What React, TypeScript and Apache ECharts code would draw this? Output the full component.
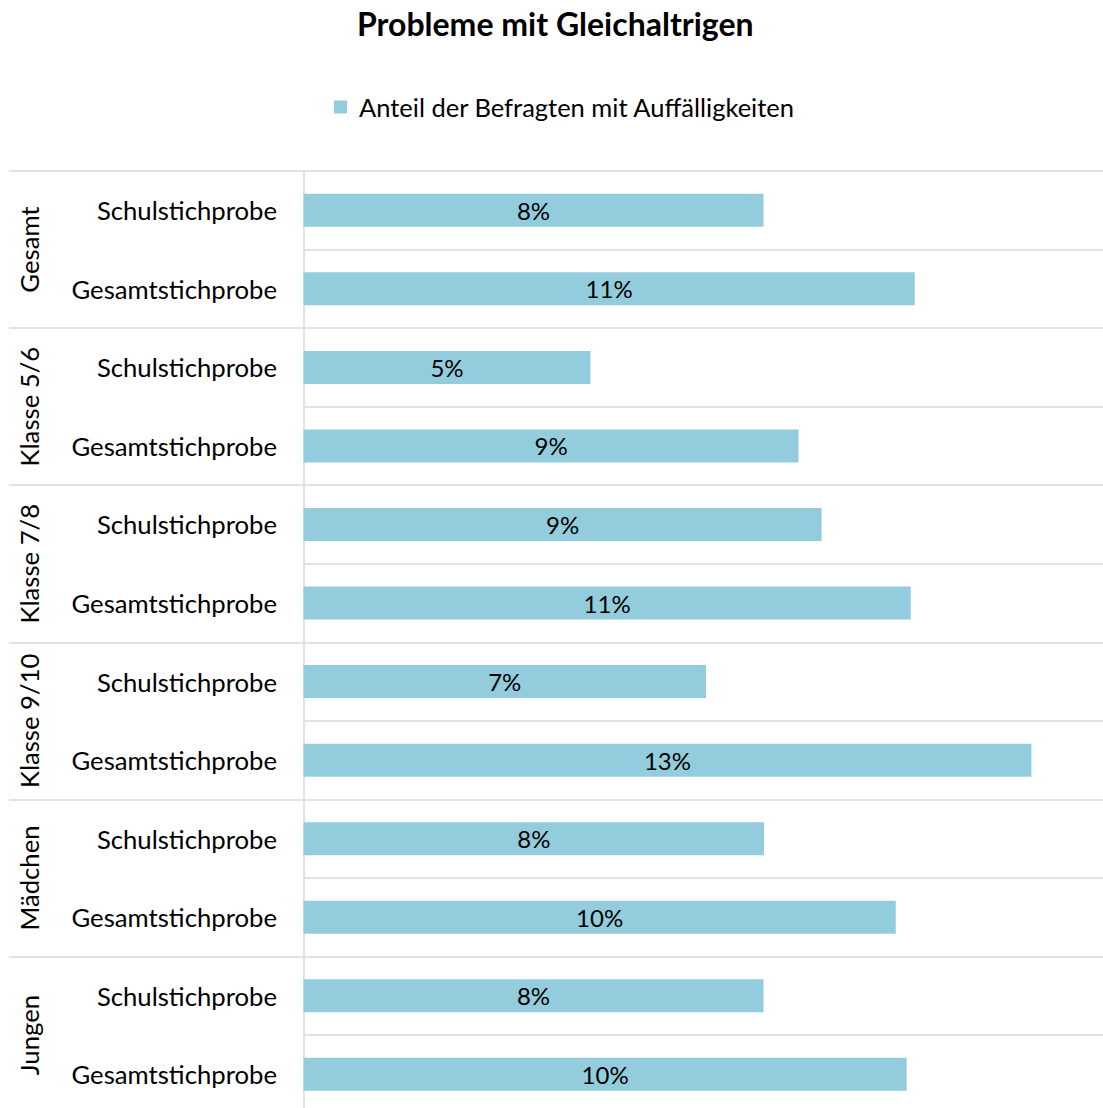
import React, { useEffect, useRef } from "react";
import * as echarts from "echarts";

const title = "Probleme mit Gleichaltrigen";
const seriesName = "Anteil der Befragten mit Auffälligkeiten";
const groups = ["Gesamt", "Klasse 5/6", "Klasse 7/8", "Klasse 9/10", "Mädchen", "Jungen"];
const samples = ["Schulstichprobe", "Gesamtstichprobe"];
const schulstichprobe = [8.0, 4.99, 9.01, 7.0, 8.01, 8.0];
const gesamtstichprobe = [10.63, 8.61, 10.56, 12.66, 10.3, 10.49];

const FONT = "Lato";

export default function App() {
  const ref = useRef<HTMLDivElement>(null);
  useEffect(() => {
    if (!ref.current) return;
    const chart = echarts.init(ref.current, null, { renderer: "svg" });
    const categories: string[] = [];
    const values: number[] = [];
    groups.forEach((g, i) => {
      categories.push(g + "|" + samples[0]);
      values.push(schulstichprobe[i]);
      categories.push(g + "|" + samples[1]);
      values.push(gesamtstichprobe[i]);
    });
    const lineColor = "#e2e2e2";
    chart.setOption({
      animation: false,
      textStyle: { fontFamily: FONT },
      title: {
        text: title,
        left: 352,
        top: 2,
        textStyle: { fontSize: 32, fontWeight: "bold", color: "#000", fontFamily: FONT },
      },
      legend: {
        top: 89,
        left: 329,
        icon: "path://M0,0h13v13h-13z",
        itemWidth: 27,
        itemHeight: 13,
        textStyle: { fontSize: 25.5, color: "#000", fontFamily: FONT },
        data: [seriesName],
      },
      grid: { left: 303.5, top: 171, width: 805, height: 942.6, outerBoundsMode: "none", containLabel: false },
      xAxis: { type: "value", min: 0, max: 14, show: false },
      yAxis: [
        {
          type: "category",
          data: categories,
          inverse: true,
          position: "left",
          axisLine: { show: true, lineStyle: { color: lineColor, width: 2 } },
          axisTick: { show: false },
          axisLabel: {
            margin: 26.5,
            fontSize: 25.7,
            color: "#000",
            fontFamily: FONT,
            interval: 0,
            formatter: (v: string) => v.split("|")[1],
          },
          splitLine: { show: true, interval: 0, lineStyle: { color: lineColor, width: 2 } },
        },
        {
          type: "category",
          data: groups,
          inverse: true,
          position: "left",
          axisLine: { show: false },
          axisTick: { show: true, length: 294.5, interval: 0, lineStyle: { color: lineColor, width: 2 } },
          axisLabel: {
            rotate: 90,
            margin: 262,
            fontSize: 25.7,
            color: "#000",
            fontFamily: FONT,
            interval: 0,
          },
          splitLine: { show: false },
        },
      ],
      series: [
        {
          type: "bar",
          name: seriesName,
          data: values,
          barWidth: 33,
          itemStyle: { color: "#93CDDD" },
          label: {
            show: true,
            position: "inside",
            color: "#000",
            fontSize: 24,
            fontFamily: FONT,
            formatter: (p: any) => Math.round(p.value) + "%",
          },
        },
      ],
    });
    return () => chart.dispose();
  }, []);
  return (
    <div
      ref={ref}
      style={{ position: "absolute", left: 0, top: 0, width: 1103, height: 1108 }}
    />
  );
}
